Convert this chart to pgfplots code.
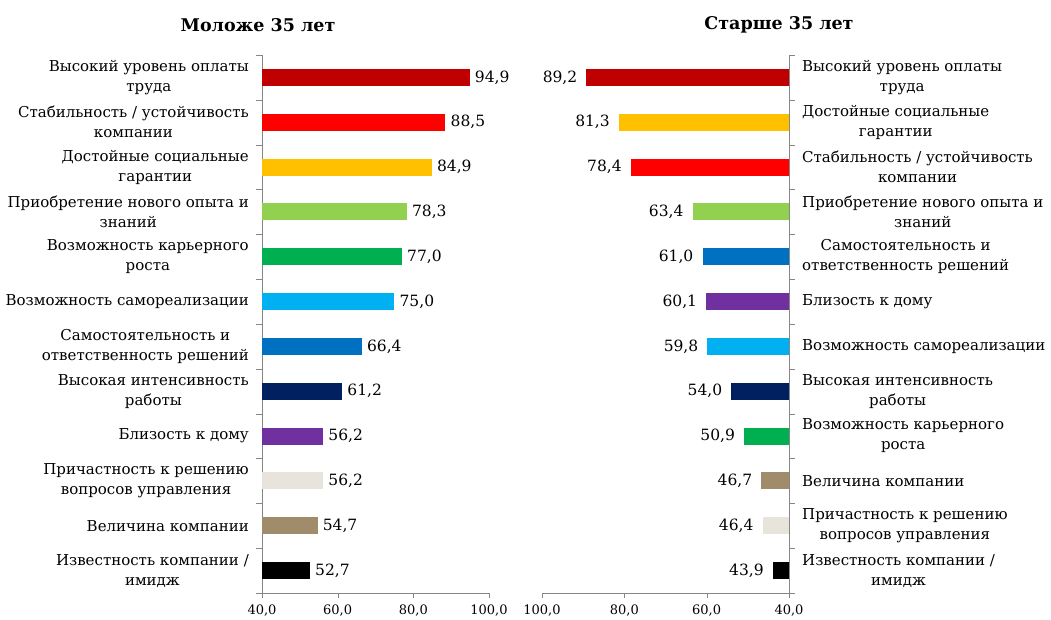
\documentclass[border=0pt]{standalone}
\usepackage{fontspec}
\setmainfont{DejaVu Serif}
\usepackage{pgfplots}
\pgfplotsset{compat=1.18}
\definecolor{axgray}{HTML}{868686}
\definecolor{cA}{HTML}{C00000}
\definecolor{cB}{HTML}{FF0000}
\definecolor{cC}{HTML}{FFC000}
\definecolor{cD}{HTML}{92D050}
\definecolor{cE}{HTML}{00B050}
\definecolor{cF}{HTML}{00B0F0}
\definecolor{cG}{HTML}{0070C0}
\definecolor{cH}{HTML}{002060}
\definecolor{cI}{HTML}{7030A0}
\definecolor{cJ}{HTML}{E8E4DC}
\definecolor{cK}{HTML}{A08B6B}
\definecolor{cL}{HTML}{000000}
\pgfplotsset{
  base/.style={
    scale only axis, height=538pt,
    xbar, bar width=17pt, bar shift=0pt,
    ymin=0.5, ymax=12.5, xmin=40, xmax=100,
    xtick={40,60,80,100},
    ytick={1,...,12},
    minor ytick={0.5,1.5,...,12.5},
    major y tick style={draw=none},
    minor y tick style={draw=axgray},
    minor tick length=6pt,
    major tick length=5pt,
    tick align=outside,
    x tick style={draw=axgray},
    axis line style={draw=axgray, -},
    axis x line*=bottom,
    /pgf/number format/assume math mode=true,
    xticklabel style={font=\fontsize{13}{15}\selectfont, yshift=-2pt},
    yticklabel style={align=center, font=\fontsize{15}{20}\selectfont},
    point meta=x,
    nodes near coords={\pgfmathprintnumber[fixed,fixed zerofill,precision=1,use comma]{\pgfplotspointmeta}},
    every node near coord/.append style={font=\fontsize{15.5}{20}\selectfont, text=black},
  }
}
\begin{document}
\fontsize{15}{20}\selectfont
\begin{tikzpicture}
\useasboundingbox (0,0) rectangle (1051pt,619pt);
\node[font=\bfseries\fontsize{17.5}{22}\selectfont] at (258pt,594pt) {Моложе 35 лет};
\node[font=\bfseries\fontsize{17.5}{22}\selectfont] at (779pt,594pt) {Старше 35 лет};

\begin{axis}[base, at={(262pt,26pt)}, anchor=south west, width=227pt,
  axis y line*=left,
  xticklabels={{40,0},{60,0},{80,0},{100,0}},
  yticklabels={{Известность компании /\\имидж},
    {Величина компании},
    {Причастность к решению\\вопросов управления},
    {Близость к дому},
    {Высокая интенсивность\\работы},
    {Самостоятельность и\\ответственность решений},
    {Возможность самореализации},
    {Возможность карьерного\\роста},
    {Приобретение нового опыта и\\знаний},
    {Достойные социальные\\гарантии},
    {Стабильность / устойчивость\\компании},
    {Высокий уровень оплаты\\труда}},
  yticklabel style={anchor=east, xshift=-3pt},
]
\addplot[fill=cA, draw=none] coordinates {(94.9,12)};
\addplot[fill=cB, draw=none] coordinates {(88.5,11)};
\addplot[fill=cC, draw=none] coordinates {(84.9,10)};
\addplot[fill=cD, draw=none] coordinates {(78.3,9)};
\addplot[fill=cE, draw=none] coordinates {(77.0,8)};
\addplot[fill=cF, draw=none] coordinates {(75.0,7)};
\addplot[fill=cG, draw=none] coordinates {(66.4,6)};
\addplot[fill=cH, draw=none] coordinates {(61.2,5)};
\addplot[fill=cI, draw=none] coordinates {(56.2,4)};
\addplot[fill=cJ, draw=none] coordinates {(56.2,3)};
\addplot[fill=cK, draw=none] coordinates {(54.7,2)};
\addplot[fill=cL, draw=none] coordinates {(52.7,1)};
\end{axis}

\begin{axis}[base, at={(542pt,26pt)}, anchor=south west, width=247pt,
  x dir=reverse,
  axis y line*=right,
  yticklabel pos=right,
  xticklabels={{40,0},{60,0},{80,0},{100,0}},
  yticklabels={{Известность компании /\\имидж},
    {Причастность к решению\\вопросов управления},
    {Величина компании},
    {Возможность карьерного\\роста},
    {Высокая интенсивность\\работы},
    {Возможность самореализации},
    {Близость к дому},
    {Самостоятельность и\\ответственность решений},
    {Приобретение нового опыта и\\знаний},
    {Стабильность / устойчивость\\компании},
    {Достойные социальные\\гарантии},
    {Высокий уровень оплаты\\труда}},
  yticklabel style={anchor=west, xshift=3pt},
  every node near coord/.append style={anchor=east, xshift=-4pt},
]
\addplot[fill=cA, draw=none] coordinates {(89.2,12)};
\addplot[fill=cC, draw=none] coordinates {(81.3,11)};
\addplot[fill=cB, draw=none] coordinates {(78.4,10)};
\addplot[fill=cD, draw=none] coordinates {(63.4,9)};
\addplot[fill=cG, draw=none] coordinates {(61.0,8)};
\addplot[fill=cI, draw=none] coordinates {(60.1,7)};
\addplot[fill=cF, draw=none] coordinates {(59.8,6)};
\addplot[fill=cH, draw=none] coordinates {(54.0,5)};
\addplot[fill=cE, draw=none] coordinates {(50.9,4)};
\addplot[fill=cK, draw=none] coordinates {(46.7,3)};
\addplot[fill=cJ, draw=none] coordinates {(46.4,2)};
\addplot[fill=cL, draw=none] coordinates {(43.9,1)};
\end{axis}
\end{tikzpicture}
\end{document}
